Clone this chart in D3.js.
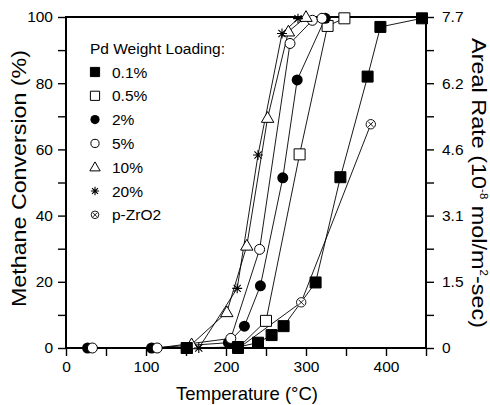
<!DOCTYPE html>
<html>
<head>
<meta charset="utf-8">
<script src="https://cdn.jsdelivr.net/npm/d3@7"></script>
<style>
  html, body { margin: 0; padding: 0; background: #fff; }
  svg { display: block; }
  text { font-family: "Liberation Sans", Arial, Helvetica, sans-serif; fill: #000; }
</style>
</head>
<body>
<svg id="chart" width="490" height="405"></svg>
<script>
// Methane conversion vs. temperature for Pd catalysts of different loadings
const seriesNames = ["0.1%", "0.5%", "2%", "5%", "10%", "20%", "p-ZrO2"];
const seriesSymbols = ["squareFilled", "squareOpen", "circleFilled", "circleOpen", "triangleOpen", "asterisk", "circleCross"];

// Temperatures (°C) and conversions (%) for each series
const temp01 = [151, 215, 240, 257, 272, 312, 343, 377, 393, 445];
const conv01 = [0, 0.3, 1.6, 3.9, 6.6, 19.8, 51.6, 82, 97, 99.6];

const temp05 = [151, 215, 250, 292, 327, 348];
const conv05 = [0, 0, 8.2, 58.5, 97.3, 99.6];

const temp2 = [27, 107, 203, 223, 243, 271, 289, 324];
const conv2 = [0, 0, 1.6, 6.6, 18.8, 51.4, 81, 99.6];

const temp5 = [33, 114, 206, 242, 280, 308, 320];
const conv5 = [0, 0, 2.9, 29.8, 92, 99, 99.6];

const temp10 = [157, 201, 226, 252, 278, 300];
const conv10 = [1.1, 10.8, 30.9, 69.5, 95.6, 100];

const temp20 = [166, 214, 240, 270, 290];
const conv20 = [0, 18, 58.3, 95, 99.5];

const tempZr = [216, 294, 381];
const convZr = [0, 13.8, 67.6];

// Axis ticks
const xTicks = [0, 50, 100, 150, 200, 250, 300, 350, 400, 450];
const xTickLabels = ["0", "", "100", "", "200", "", "300", "", "400", ""];
const yTicks = [0, 10, 20, 30, 40, 50, 60, 70, 80, 90, 100];
const yTickLabels = ["0", "", "20", "", "40", "", "60", "", "80", "", "100"];
const rateTickLabels = ["0", "", "1.5", "", "3.1", "", "4.6", "", "6.2", "", "7.7"];

const seriesTemps = [temp01, temp05, temp2, temp5, temp10, temp20, tempZr];
const seriesConvs = [conv01, conv05, conv2, conv5, conv10, conv20, convZr];

const svg = d3.select("#chart");
const plotLeft = 66, plotRight = 426, plotTop = 17, plotBottom = 348;

const x = d3.scaleLinear().domain([0, 450]).range([plotLeft, plotRight]);
const y = d3.scaleLinear().domain([0, 100]).range([plotBottom, plotTop]);

const series = seriesNames.map((name, i) => ({
  name,
  symbol: seriesSymbols[i],
  points: seriesTemps[i].map((t, j) => ({ t, c: seriesConvs[i][j] }))
}));

// Connecting lines
const line = d3.line().x(d => x(d.t)).y(d => y(d.c));
svg.append("g").selectAll("path").data(series).join("path")
  .attr("d", d => line(d.points))
  .attr("fill", "none").attr("stroke", "#000").attr("stroke-width", 0.9);

// Axes
function styleAxis(g) {
  g.selectAll(".domain").remove();
  g.selectAll(".tick line").attr("stroke", "#000").attr("stroke-width", 1.4);
  g.selectAll(".tick text").attr("font-size", 15.5).attr("fill", "#000")
    .attr("font-family", "Liberation Sans, Arial, sans-serif");
}

svg.append("g").attr("transform", `translate(0,${plotBottom})`)
  .call(d3.axisBottom(x).tickValues(xTicks).tickSize(8).tickPadding(5)
    .tickFormat((d, i) => xTickLabels[i]))
  .call(styleAxis);

svg.append("g").attr("transform", `translate(${plotLeft},0)`)
  .call(d3.axisLeft(y).tickValues(yTicks).tickSize(8).tickPadding(5)
    .tickFormat((d, i) => yTickLabels[i]))
  .call(styleAxis);

svg.append("g").attr("transform", `translate(${plotRight},0)`)
  .call(d3.axisRight(y).tickValues(yTicks).tickSize(8).tickPadding(8)
    .tickFormat((d, i) => rateTickLabels[i]))
  .call(styleAxis);

// Frame
svg.append("path")
  .attr("d", `M${plotLeft},${plotBottom}V${plotTop}H${plotRight}V${plotBottom}H${plotLeft}`)
  .attr("fill", "none").attr("stroke", "#000").attr("stroke-width", 2);

// Marker drawing
function drawMarker(g, kind, r) {
  const sq = d3.symbol().type(d3.symbolSquare).size((2 * r) * (2 * r))();
  const tri = d3.symbol().type(d3.symbolTriangle).size(r * r * 2.2)();
  switch (kind) {
    case "squareFilled":
      g.append("path").attr("d", sq).attr("fill", "#000").attr("stroke", "#000");
      break;
    case "squareOpen":
      g.append("path").attr("d", sq).attr("fill", "#fff").attr("stroke", "#000").attr("stroke-width", 1);
      break;
    case "circleFilled":
      g.append("circle").attr("r", r).attr("fill", "#000");
      break;
    case "circleOpen":
      g.append("circle").attr("r", r - 0.5).attr("fill", "#fff").attr("stroke", "#000").attr("stroke-width", 1);
      break;
    case "triangleOpen":
      g.append("path").attr("d", tri).attr("transform", `translate(0,${r * 0.15})`)
        .attr("fill", "#fff").attr("stroke", "#000").attr("stroke-width", 1);
      break;
    case "asterisk": {
      const a = r * 0.9, b = a * 0.72;
      g.append("path")
        .attr("d", `M${-a},0H${a}M0,${-a}V${a}M${-b},${-b}L${b},${b}M${-b},${b}L${b},${-b}`)
        .attr("stroke", "#000").attr("stroke-width", 1.1);
      break;
    }
    case "circleCross": {
      const rr = r - 0.8, k = rr * 0.55;
      g.append("circle").attr("r", rr).attr("fill", "#fff").attr("stroke", "#000").attr("stroke-width", 0.9);
      g.append("path").attr("d", `M${-k},${-k}L${k},${k}M${-k},${k}L${k},${-k}`)
        .attr("stroke", "#000").attr("stroke-width", 0.9);
      break;
    }
  }
}

// Markers, drawn in layering order
const drawOrder = [1, 6, 2, 3, 4, 5, 0];
drawOrder.forEach(i => {
  const s = series[i];
  svg.append("g").selectAll("g").data(s.points).join("g")
    .attr("transform", d => `translate(${x(d.t)},${y(d.c)})`)
    .each(function () { drawMarker(d3.select(this), s.symbol, 5.5); });
});

// Legend
const legend = svg.append("g");
legend.append("text").attr("x", 90).attr("y", 54).attr("font-size", 15.5).text("Pd Weight Loading:");
series.forEach((s, i) => {
  const yy = 72 + i * 23.8;
  const g = legend.append("g").attr("transform", `translate(95,${yy})`);
  drawMarker(g, s.symbol, 4.6);
  legend.append("text").attr("x", 112).attr("y", yy + 5.5).attr("font-size", 15.5).text(s.name);
});

// Axis titles
svg.append("text").attr("x", 247).attr("y", 400).attr("text-anchor", "middle")
  .attr("font-size", 18.5).text("Temperature (\u00B0C)");

svg.append("text").attr("transform", "translate(26,178.5) rotate(-90)")
  .attr("text-anchor", "middle").attr("font-size", 20)
  .attr("textLength", 257).attr("lengthAdjust", "spacingAndGlyphs")
  .text("Methane Conversion (%)");

const rt = svg.append("text").attr("transform", "translate(472,183) rotate(90)")
  .attr("text-anchor", "middle").attr("font-size", 20.5)
  .attr("textLength", 290).attr("lengthAdjust", "spacingAndGlyphs");
rt.append("tspan").text("Areal Rate (10");
rt.append("tspan").attr("font-size", 10).attr("dy", -8).text("-8");
rt.append("tspan").attr("dy", 8).text(" mol/m");
rt.append("tspan").attr("font-size", 10).attr("dy", -8).text("2");
rt.append("tspan").attr("dy", 8).text("-sec)");
</script>
</body>
</html>
